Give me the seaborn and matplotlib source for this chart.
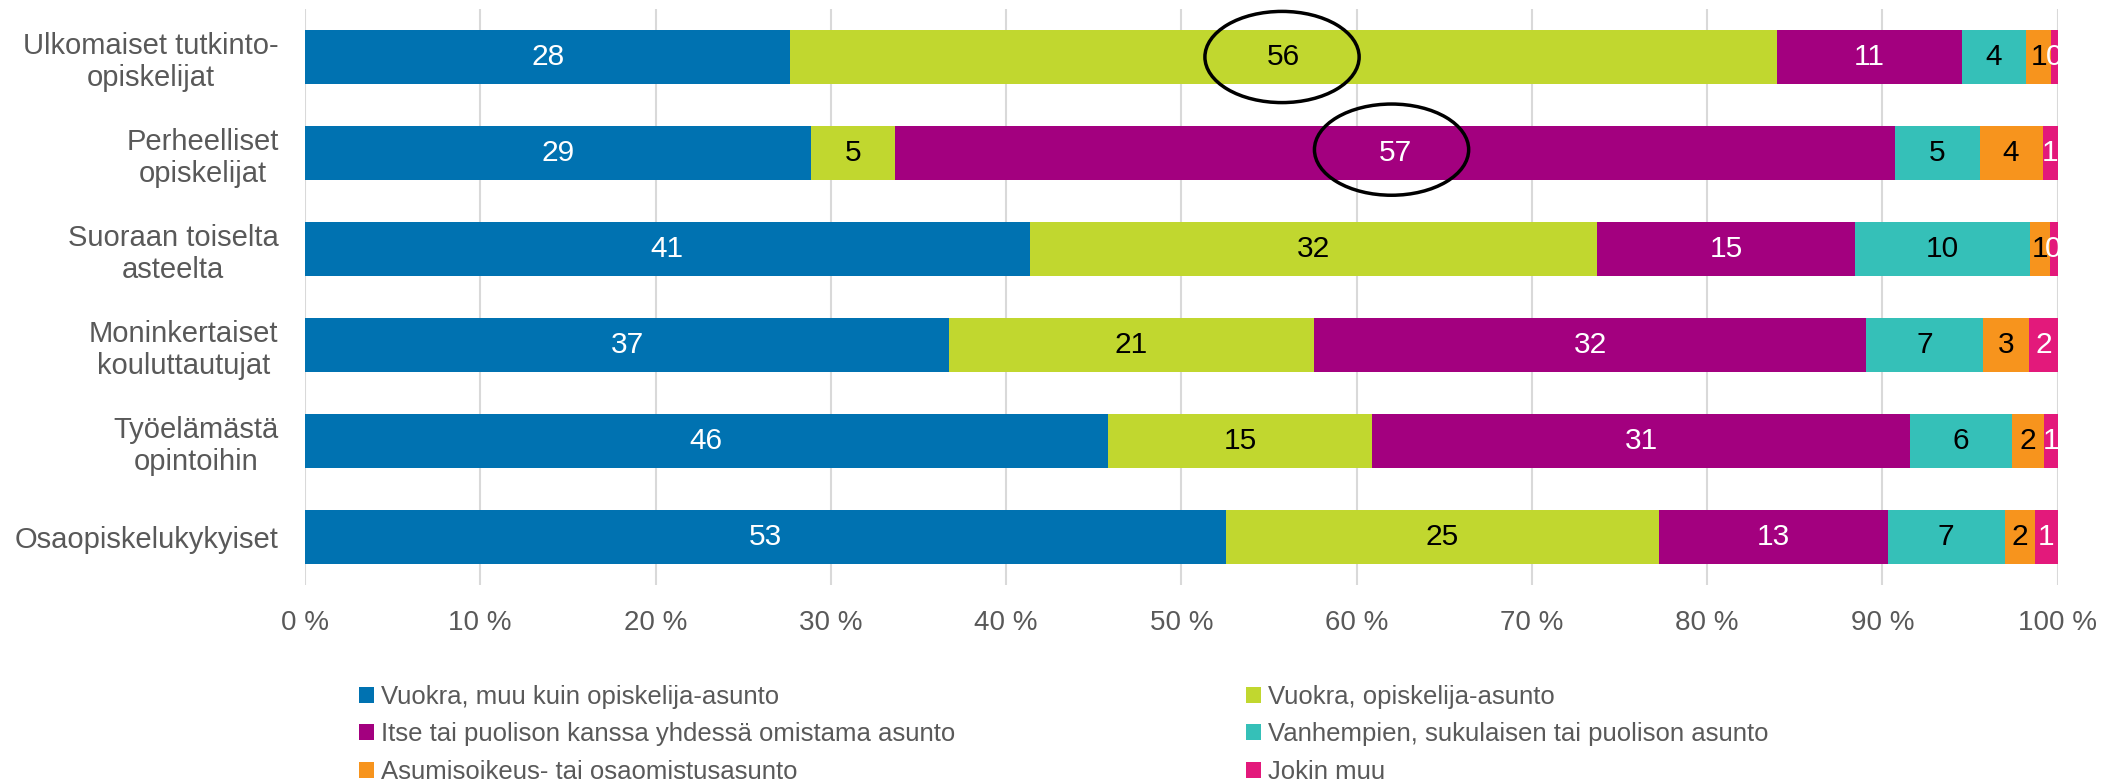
import matplotlib
matplotlib.use("Agg")
import matplotlib.pyplot as plt
from matplotlib.patches import Ellipse, Patch
import numpy as np
import pandas as pd
import seaborn as sns

# ---------------- data ----------------
groups = [
    "Ulkomaiset tutkinto-\nopiskelijat",
    "Perheelliset\nopiskelijat",
    "Suoraan toiselta\nasteelta",
    "Moninkertaiset\nkouluttautujat",
    "Työelämästä\nopintoihin",
    "Osaopiskelukykyiset",
]
series_names = [
    "Vuokra, muu kuin opiskelija-asunto",
    "Vuokra, opiskelija-asunto",
    "Itse tai puolison kanssa yhdessä omistama asunto",
    "Vanhempien, sukulaisen tai puolison asunto",
    "Asumisoikeus- tai osaomistusasunto",
    "Jokin muu",
]
vuokra_muu = [27.7, 28.85, 41.35, 36.75, 45.8, 52.55]
vuokra_opiskelija = [56.3, 4.8, 32.4, 20.8, 15.1, 24.7]
omistus = [10.55, 57.1, 14.7, 31.55, 30.7, 13.05]
vanhemmat = [3.65, 4.8, 10.0, 6.65, 5.8, 6.7]
asumisoikeus = [1.45, 3.6, 1.1, 2.65, 1.85, 1.7]
jokin_muu = [0.35, 0.85, 0.45, 1.6, 0.75, 1.3]

series_values = [vuokra_muu, vuokra_opiskelija, omistus, vanhemmat, asumisoikeus, jokin_muu]
colors = ["#0072B1", "#C1D72F", "#A3007F", "#35C0B8", "#F7941D", "#E3197B"]
label_colors = ["white", "black", "white", "black", "black", "white"]
xticks = list(range(0, 101, 10))
xtick_labels = [f"{t} %" for t in xticks]
# highlighted cells: (group index, series index)
highlights = [(0, 1), (1, 2)]

# ---------------- style ----------------
sns.set_style("white")
plt.rcParams["font.family"] = ["Liberation Sans", "DejaVu Sans"]
text_gray = "#595959"

fig = plt.figure(figsize=(21.03, 7.8), dpi=100)
ax = fig.add_axes([305 / 2103, 1 - 585 / 780, 1752.5 / 2103, 576 / 780])

vals = np.array(series_values)          # shape (series, groups)
cum = np.cumsum(vals, axis=0)
starts = cum - vals

# draw stacked bars: largest cumulative first, overlay smaller
for i in range(len(series_names) - 1, -1, -1):
    df = pd.DataFrame({"grp": groups, "val": cum[i]})
    sns.barplot(data=df, x="val", y="grp", order=groups, orient="h",
                color=colors[i], width=0.57, linewidth=0, saturation=1,
                ax=ax, zorder=3)

# value labels
for i in range(len(series_names)):
    for j in range(len(groups)):
        v = vals[i, j]
        ax.text(starts[i, j] + v / 2, j, f"{v:.0f}", ha="center", va="center",
                fontsize=21.5, color=label_colors[i], zorder=5, clip_on=True)

# highlight ellipses
for (j, i) in highlights:
    cx = starts[i, j] + vals[i, j] / 2 - (0.2 if j == 1 else 0.1)
    cy = j - (0.035 if j == 1 else 0.0)
    e = Ellipse((cx, cy), width=8.8, height=0.95, fill=False,
                edgecolor="black", linewidth=2.5, zorder=6, clip_on=False)
    ax.add_patch(e)

ax.set_xlim(0, 100)
ax.set_ylim(len(groups) - 0.5, -0.5)
ax.set_xticks(xticks)
ax.set_xticklabels(xtick_labels)
ax.grid(axis="x", color="#D9D9D9", linewidth=1.5, zorder=0)
ax.grid(axis="y", visible=False)
ax.set_axisbelow(True)
for s in ax.spines.values():
    s.set_visible(False)
ax.set_xlabel("")
ax.set_ylabel("")
ax.tick_params(axis="x", length=0, pad=18, labelsize=20, labelcolor=text_gray)
ax.tick_params(axis="y", length=0, pad=19, labelsize=21, labelcolor=text_gray)
for lab in ax.get_yticklabels():
    lab.set_multialignment("center")

# legend: two columns placed explicitly
handles = [Patch(facecolor=c, edgecolor="none") for c in colors]
leg_kw = dict(loc="upper left", frameon=False, fontsize=18.5, borderpad=0,
              borderaxespad=0, handlelength=0.57, handleheight=0.57,
              handletextpad=0.3, labelspacing=0.52, labelcolor=text_gray)
col1 = [0, 2, 4]
col2 = [1, 3, 5]
fig.legend([handles[k] for k in col1], [series_names[k] for k in col1],
           bbox_to_anchor=(359 / 2103, 1 - 685 / 780), **leg_kw)
fig.legend([handles[k] for k in col2], [series_names[k] for k in col2],
           bbox_to_anchor=(1246 / 2103, 1 - 685 / 780), **leg_kw)

fig.savefig("out.png", dpi=100)
